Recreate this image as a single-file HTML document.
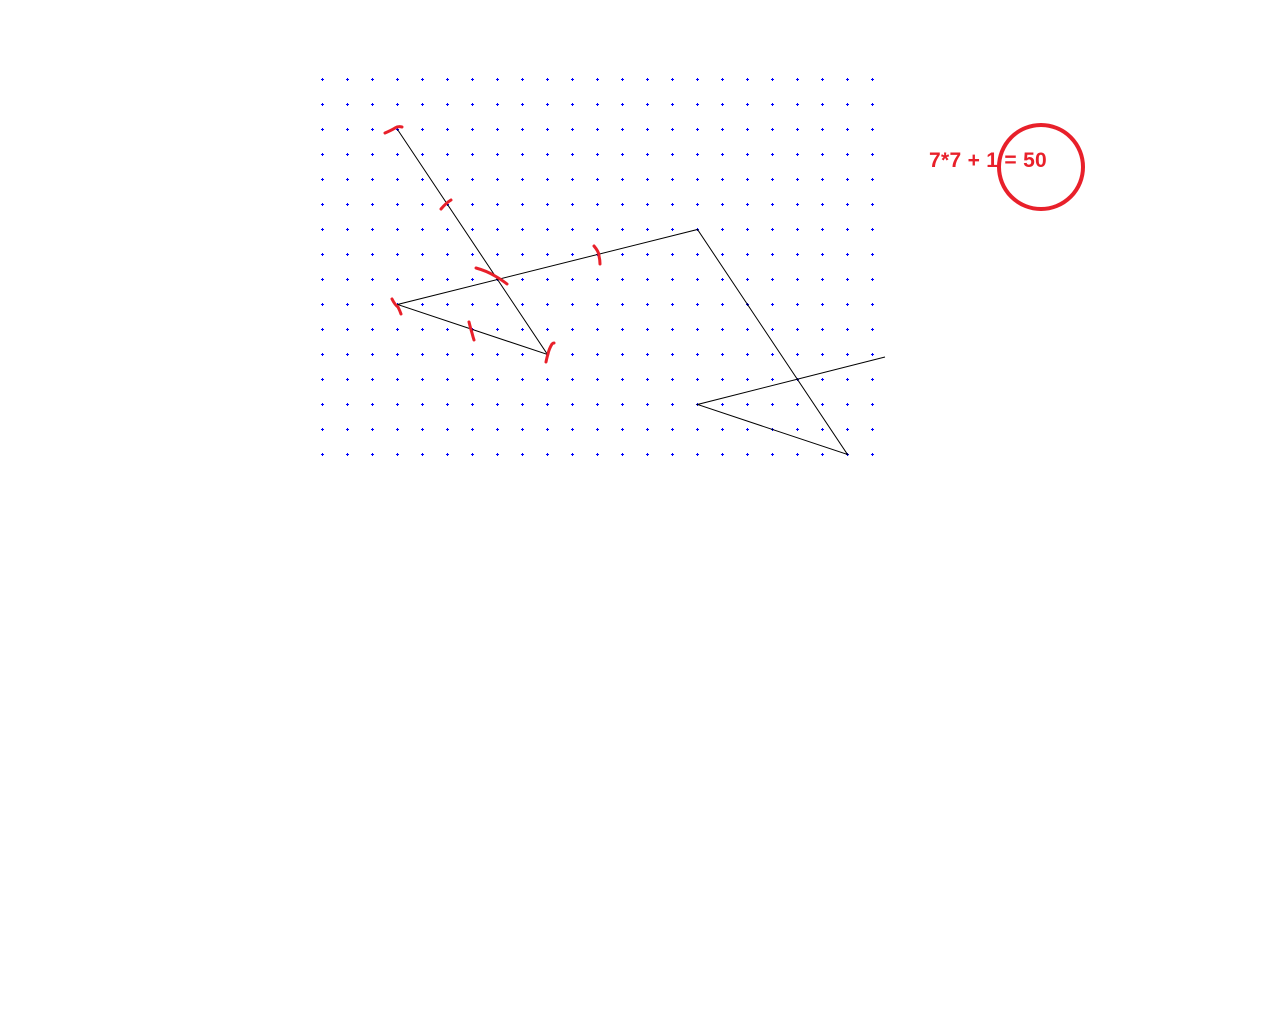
<!DOCTYPE html>
<html><head><meta charset="utf-8"><style>
html,body{margin:0;padding:0;background:#fff;width:1280px;height:1024px;overflow:hidden}
svg{display:block}
</style></head><body>
<svg id="chart" width="1280" height="1024" xmlns="http://www.w3.org/2000/svg">
<g id="dots"></g>
<g id="lines" stroke="#000" stroke-width="1" fill="none"></g>
<g id="marks" stroke="#e8202a" stroke-width="3" fill="none" stroke-linecap="round">
<path d="M385,133 Q392,130 395,128 Q398,126 402,127"/>
<path d="M441,209 Q446,203 451,200"/>
<path d="M476,268 Q487,271 495,276 Q502,280 507,284"/>
<path d="M594,246 Q599,252 599,256 Q600,260 600,264"/>
<path d="M392,299 Q395,305 398,307 Q400,311 401,314"/>
<path d="M469,322 Q471,330 472,333 Q473,337 474,340"/>
<path d="M546,362 Q547,357 548,354 Q549,349 552,344 Q553,343 554,343"/>
</g>
<text x="929" y="167" font-family="Liberation Sans, sans-serif" font-size="21" letter-spacing="0.3" font-weight="bold" fill="#e8202a">7*7 + 1 = 50</text>
<circle cx="1041" cy="167" r="42" stroke="#e8202a" stroke-width="4" fill="none"/>
</svg>
<script>
const gridCols = 23;
const gridRows = 16;
const pathPoints = [[3,2],[9,11],[3,9],[15,6],[21,15],[15,13],[22.5,11.1]];
const ns = 'http://www.w3.org/2000/svg';
const x0 = 322, y0 = 79, step = 25;
function sx(c){return x0 + c*step;}
function sy(r){return y0 + r*step;}
const dots = document.getElementById('dots');
for (let r=0;r<gridRows;r++){
  for (let c=0;c<gridCols;c++){
    const p = document.createElementNS(ns,'path');
    const x=sx(c), y=sy(r);
    p.setAttribute('d',`M${x-1},${y+0.5}H${x+2}M${x+0.5},${y-1}V${y+2}`);
    p.setAttribute('stroke','#0000ff');
    p.setAttribute('stroke-width','1');
    
    
    dots.appendChild(p);
  }
}
const lines = document.getElementById('lines');
const pl = document.createElementNS(ns,'polyline');
pl.setAttribute('points', pathPoints.map(p=>`${sx(p[0])+0.5},${sy(p[1]-2)+50+0.5}`).join(' '));


lines.appendChild(pl);
</script>
</body></html>
